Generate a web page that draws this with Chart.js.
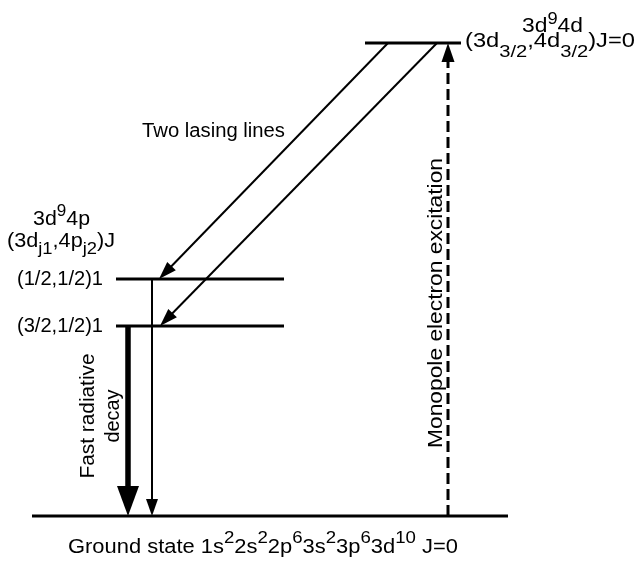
<!DOCTYPE html>
<html>
<head>
<meta charset="utf-8">
<script src="https://cdn.jsdelivr.net/npm/chart.js@4"></script>
<style>
  html, body { margin: 0; padding: 0; background: #fff; }
  canvas { display: block; }
</style>
</head>
<body>
<canvas id="levels" width="636" height="563"></canvas>
<script>
// energy levels (arbitrary units, ground = 0)
const levelNames = ['ground', '(3/2,1/2)1', '(1/2,1/2)1', '4d J=0'];
const levelEnergy = [0, 190, 237, 473];

// transitions, as level indices
const transNames = ['lasing 1', 'lasing 2', 'decay (1/2,1/2)1', 'fast decay', 'excitation'];
const transFrom = [3, 3, 2, 1, 0];
const transTo = [2, 1, 0, 0, 3];

// horizontal layout of the diagram (x axis runs 0..636)
const levelSpan = [[32, 508], [116, 284], [116, 284], [365, 461]];
const transX = [[388, 159], [437, 160], [152, 152], [128, 128], [448, 448]];
const transStyle = [
  { width: 2, head: 18, headW: 12 },
  { width: 2, head: 18, headW: 12 },
  { width: 2, head: 17, headW: 12 },
  { width: 5.5, head: 30, headW: 22 },
  { width: 3, head: 19, headW: 13, dash: [11, 5] }
];

const FONT = "'Liberation Sans', Arial, Helvetica, sans-serif";

let datasets = [];
levelEnergy.forEach((e, i) => {
  datasets.push({
    label: levelNames[i],
    data: [{ x: levelSpan[i][0], y: e }, { x: levelSpan[i][1], y: e }],
    showLine: true,
    borderColor: '#000',
    borderWidth: 3,
    pointRadius: 0
  });
});

transFrom.forEach((f, i) => {
  let s = transStyle[i];
  let x0 = transX[i][0], y0 = levelEnergy[f];
  let x1 = transX[i][1], y1 = levelEnergy[transTo[i]];
  // stop the shaft a little inside the head (1 unit = 1 px on both axes)
  let len = Math.hypot(x1 - x0, y1 - y0);
  let back = s.head * 0.7 / len;
  datasets.push({
    label: transNames[i],
    data: [{ x: x0, y: y0 }, { x: x1 - (x1 - x0) * back, y: y1 - (y1 - y0) * back }],
    tip: { x: x1, y: y1 },
    arrow: s,
    showLine: true,
    borderColor: '#000',
    borderWidth: s.width,
    borderDash: s.dash || [],
    pointRadius: 0
  });
});

// parts: [text, 'sup' | 'sub' | undefined]; o.w is the width the text is fitted to
function drawRich(ctx, parts, o) {
  let size = o.size || 20;
  let fmt = p => {
    let k = p[1] && o[p[1]];
    return k ? { size: size * k[0], dy: k[1] } : { size, dy: 0 };
  };
  let natural = 0;
  parts.forEach(p => {
    ctx.font = fmt(p).size + 'px ' + FONT;
    natural += ctx.measureText(p[0]).width;
  });
  let sx = o.w ? o.w / natural : 1;
  ctx.save();
  ctx.translate(o.x, o.y);
  if (o.rot) ctx.rotate(o.rot);
  ctx.scale(sx, 1);
  let cx = o.center ? -natural / 2 : 0;
  parts.forEach(p => {
    let f = fmt(p);
    ctx.font = f.size + 'px ' + FONT;
    ctx.fillText(p[0], cx, f.dy);
    cx += ctx.measureText(p[0]).width;
  });
  ctx.restore();
}

const arrowHeads = {
  id: 'arrowHeads',
  afterDatasetsDraw(chart) {
    let ctx = chart.ctx, xs = chart.scales.x, ys = chart.scales.y;
    ctx.save();
    ctx.fillStyle = '#000';
    chart.data.datasets.forEach(ds => {
      if (!ds.arrow) return;
      let tx = xs.getPixelForValue(ds.tip.x), ty = ys.getPixelForValue(ds.tip.y);
      let sx = xs.getPixelForValue(ds.data[0].x), sy = ys.getPixelForValue(ds.data[0].y);
      let ang = Math.atan2(ty - sy, tx - sx);
      let h = ds.arrow.head, w = ds.arrow.headW / 2;
      ctx.beginPath();
      ctx.moveTo(tx, ty);
      ctx.lineTo(tx - h * Math.cos(ang) + w * Math.sin(ang), ty - h * Math.sin(ang) - w * Math.cos(ang));
      ctx.lineTo(tx - h * Math.cos(ang) - w * Math.sin(ang), ty - h * Math.sin(ang) + w * Math.cos(ang));
      ctx.closePath();
      ctx.fill();
    });
    ctx.restore();
  }
};

const labels = {
  id: 'labels',
  afterDraw(chart) {
    let ctx = chart.ctx, ys = chart.scales.y;
    let yOf = i => ys.getPixelForValue(levelEnergy[i]);
    ctx.save();
    ctx.fillStyle = '#000';
    ctx.textBaseline = 'alphabetic';

    drawRich(ctx, [['3d'], ['9', 'sup'], ['4d']], { x: 522, y: yOf(3) - 11, w: 61, sup: [0.8, -8] });
    drawRich(ctx, [['(3d'], ['3/2', 'sub'], [',4d'], ['3/2', 'sub'], [')J=0']],
      { x: 465, y: yOf(3) + 4, w: 170, sub: [0.85, 10] });

    drawRich(ctx, [['Two lasing lines']], { x: 142, y: 137, w: 143 });

    drawRich(ctx, [['3d'], ['9', 'sup'], ['4p']], { x: 33, y: yOf(2) - 54, w: 57, sup: [0.8, -9] });
    drawRich(ctx, [['(3d'], ['j1', 'sub'], [',4p'], ['j2', 'sub'], [')J']],
      { x: 7, y: yOf(2) - 32, w: 108, sub: [0.85, 7] });
    drawRich(ctx, [[levelNames[2]]], { x: 17, y: yOf(2) + 6, w: 86 });
    drawRich(ctx, [[levelNames[1]]], { x: 17, y: yOf(1) + 6, w: 86 });

    drawRich(ctx, [['Ground state 1s'], ['2', 'sup'], ['2s'], ['2', 'sup'], ['2p'], ['6', 'sup'],
      ['3s'], ['2', 'sup'], ['3p'], ['6', 'sup'], ['3d'], ['10', 'sup'], [' J=0']],
      { x: 68, y: yOf(0) + 37, w: 390, sup: [0.85, -10] });

    // rotated captions, reading bottom to top
    ctx.textBaseline = 'middle';
    drawRich(ctx, [['Fast radiative']], { x: 88, y: 416, w: 125, rot: -Math.PI / 2, center: true });
    drawRich(ctx, [['decay']], { x: 113, y: 416, w: 53, rot: -Math.PI / 2, center: true });
    drawRich(ctx, [['Monopole electron excitation']], { x: 436, y: 303, w: 290, rot: -Math.PI / 2, center: true });
    ctx.restore();
  }
};

new Chart('levels', {
  type: 'scatter',
  data: { datasets },
  plugins: [arrowHeads, labels],
  options: {
    responsive: false,
    animation: false,
    layout: { padding: 0 },
    plugins: { legend: { display: false }, tooltip: { enabled: false } },
    elements: { line: { tension: 0, borderCapStyle: 'butt' } },
    scales: {
      x: { type: 'linear', min: 0, max: 636, display: false },
      y: { type: 'linear', min: -47, max: 516, display: false }
    }
  }
});
</script>
</body>
</html>
